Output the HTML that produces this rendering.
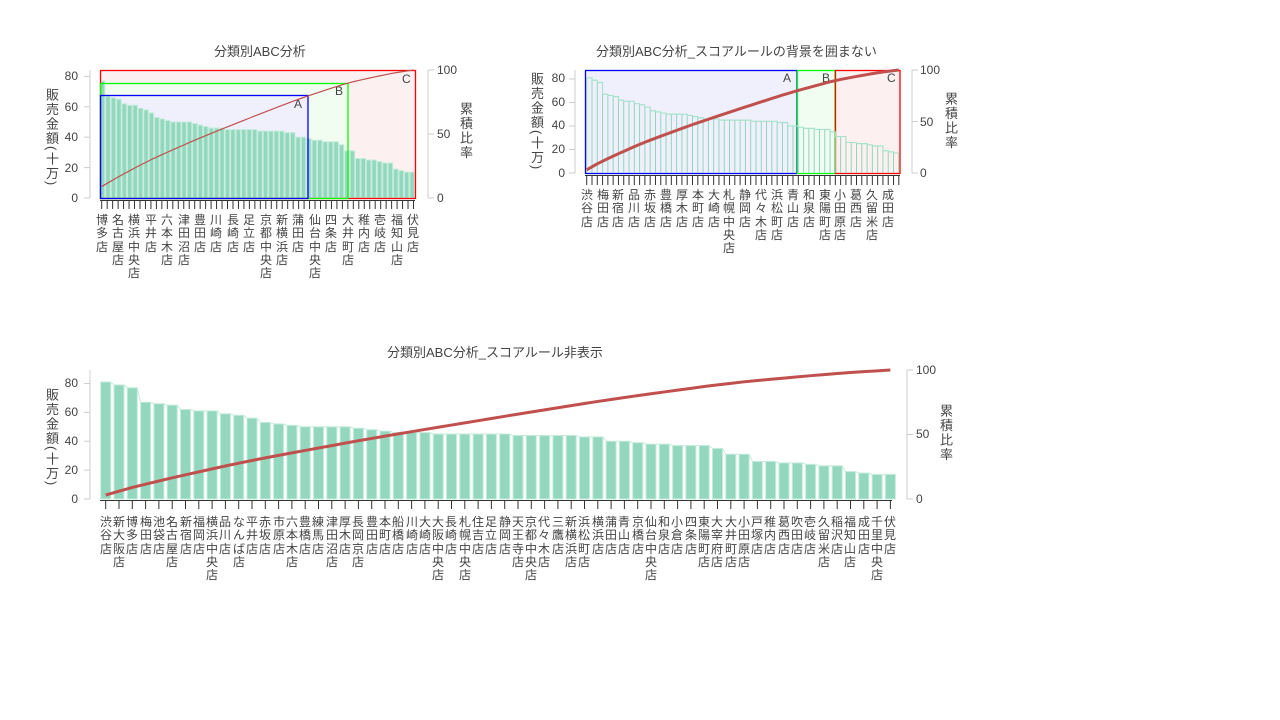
<!DOCTYPE html>
<html><head><meta charset="utf-8"><style>
body{margin:0;width:1280px;height:720px;background:#fff;position:relative;overflow:hidden;font-family:"Liberation Sans","Noto Sans CJK JP",sans-serif;color:#444}
svg{position:absolute;left:0;top:0}
.l{position:absolute;width:12px;font-size:12px;line-height:13.3px;line-break:anywhere;word-break:break-all;text-align:center;color:#444}
.t{position:absolute;font-size:13px;color:#444;white-space:nowrap}
.n{position:absolute;font-size:12px;color:#444;width:30px}
.v{position:absolute;font-size:13px;line-height:14px;letter-spacing:1.5px;writing-mode:vertical-rl;color:#444}
</style></head><body>
<svg id="s" width="1280" height="720"></svg>
<div class="t" style="left:214px;top:41px">分類別ABC分析</div>
<div class="t" style="left:596px;top:41px">分類別ABC分析_スコアルールの背景を囲まない</div>
<div class="t" style="left:387px;top:342px">分類別ABC分析_スコアルール非表示</div>

<div class="v" style="left:44px;top:88px">販売金額(十万)</div>
<div class="v" style="left:458px;top:102px">累積比率</div>
<div class="v" style="left:529px;top:72px">販売金額(十万)</div>
<div class="v" style="left:943px;top:92px">累積比率</div>
<div class="v" style="left:44px;top:388px">販売金額(十万)</div>
<div class="v" style="left:938px;top:404px">累積比率</div>

<div class="n" style="left:48px;top:69px;text-align:right">80</div>
<div class="n" style="left:48px;top:100px;text-align:right">60</div>
<div class="n" style="left:48px;top:130px;text-align:right">40</div>
<div class="n" style="left:48px;top:161px;text-align:right">20</div>
<div class="n" style="left:48px;top:191px;text-align:right">0</div>
<div class="n" style="left:437px;top:63px">100</div>
<div class="n" style="left:437px;top:127px">50</div>
<div class="n" style="left:437px;top:191px">0</div>

<div class="n" style="left:535px;top:71px;text-align:right">80</div>
<div class="n" style="left:535px;top:95px;text-align:right">60</div>
<div class="n" style="left:535px;top:118px;text-align:right">40</div>
<div class="n" style="left:535px;top:142px;text-align:right">20</div>
<div class="n" style="left:535px;top:166px;text-align:right">0</div>
<div class="n" style="left:920px;top:63px">100</div>
<div class="n" style="left:920px;top:115px">50</div>
<div class="n" style="left:920px;top:166px">0</div>

<div class="n" style="left:48px;top:376px;text-align:right">80</div>
<div class="n" style="left:48px;top:405px;text-align:right">60</div>
<div class="n" style="left:48px;top:434px;text-align:right">40</div>
<div class="n" style="left:48px;top:463px;text-align:right">20</div>
<div class="n" style="left:48px;top:492px;text-align:right">0</div>
<div class="n" style="left:916px;top:363px">100</div>
<div class="n" style="left:916px;top:427px">50</div>
<div class="n" style="left:916px;top:492px">0</div>

<div id="L1"><div class="l" style="left:96px;top:214px">博多店</div><div class="l" style="left:112px;top:214px">名古屋店</div><div class="l" style="left:128px;top:214px">横浜中央店</div><div class="l" style="left:145px;top:214px">平井店</div><div class="l" style="left:161px;top:214px">六本木店</div><div class="l" style="left:178px;top:214px">津田沼店</div><div class="l" style="left:194px;top:214px">豊田店</div><div class="l" style="left:210px;top:214px">川崎店</div><div class="l" style="left:227px;top:214px">長崎店</div><div class="l" style="left:243px;top:214px">足立店</div><div class="l" style="left:260px;top:214px">京都中央店</div><div class="l" style="left:276px;top:214px">新横浜店</div><div class="l" style="left:292px;top:214px">蒲田店</div><div class="l" style="left:309px;top:214px">仙台中央店</div><div class="l" style="left:325px;top:214px">四条店</div><div class="l" style="left:342px;top:214px">大井町店</div><div class="l" style="left:358px;top:214px">稚内店</div><div class="l" style="left:374px;top:214px">壱岐店</div><div class="l" style="left:391px;top:214px">福知山店</div><div class="l" style="left:407px;top:214px">伏見店</div></div>

<div><div class="l" style="left:581px;top:189px">渋谷店</div><div class="l" style="left:597px;top:189px">梅田店</div><div class="l" style="left:612px;top:189px">新宿店</div><div class="l" style="left:628px;top:189px">品川店</div><div class="l" style="left:644px;top:189px">赤坂店</div><div class="l" style="left:660px;top:189px">豊橋店</div><div class="l" style="left:676px;top:189px">厚木店</div><div class="l" style="left:692px;top:189px">本町店</div><div class="l" style="left:708px;top:189px">大崎店</div><div class="l" style="left:723px;top:189px">札幌中央店</div><div class="l" style="left:739px;top:189px">静岡店</div><div class="l" style="left:755px;top:189px">代々木店</div><div class="l" style="left:771px;top:189px">浜松町店</div><div class="l" style="left:787px;top:189px">青山店</div><div class="l" style="left:803px;top:189px">和泉店</div><div class="l" style="left:819px;top:189px">東陽町店</div><div class="l" style="left:834px;top:189px">小田原店</div><div class="l" style="left:850px;top:189px">葛西店</div><div class="l" style="left:866px;top:189px">久留米店</div><div class="l" style="left:882px;top:189px">成田店</div></div>

<div>
<div class="l" style="left:100px;top:516px">渋谷店</div><div class="l" style="left:113px;top:516px">新大阪店</div><div class="l" style="left:126px;top:516px">博多店</div><div class="l" style="left:140px;top:516px">梅田店</div><div class="l" style="left:153px;top:516px">池袋店</div><div class="l" style="left:166px;top:516px">名古屋店</div><div class="l" style="left:180px;top:516px">新宿店</div><div class="l" style="left:193px;top:516px">福岡店</div><div class="l" style="left:206px;top:516px">横浜中央店</div><div class="l" style="left:219px;top:516px">品川店</div><div class="l" style="left:233px;top:516px">なんば店</div><div class="l" style="left:246px;top:516px">平井店</div><div class="l" style="left:259px;top:516px">赤坂店</div><div class="l" style="left:273px;top:516px">市原店</div><div class="l" style="left:286px;top:516px">六本木店</div><div class="l" style="left:299px;top:516px">豊橋店</div><div class="l" style="left:312px;top:516px">練馬店</div><div class="l" style="left:326px;top:516px">津田沼店</div><div class="l" style="left:339px;top:516px">厚木店</div><div class="l" style="left:352px;top:516px">長岡京店</div><div class="l" style="left:366px;top:516px">豊田店</div><div class="l" style="left:379px;top:516px">本町店</div><div class="l" style="left:392px;top:516px">船橋店</div><div class="l" style="left:406px;top:516px">川崎店</div><div class="l" style="left:419px;top:516px">大崎店</div><div class="l" style="left:432px;top:516px">大阪中央店</div><div class="l" style="left:445px;top:516px">長崎店</div><div class="l" style="left:459px;top:516px">札幌中央店</div><div class="l" style="left:472px;top:516px">住吉店</div><div class="l" style="left:485px;top:516px">足立店</div><div class="l" style="left:499px;top:516px">静岡店</div><div class="l" style="left:512px;top:516px">天王寺店</div><div class="l" style="left:525px;top:516px">京都中央店</div><div class="l" style="left:538px;top:516px">代々木店</div><div class="l" style="left:552px;top:516px">三鷹店</div><div class="l" style="left:565px;top:516px">新横浜店</div><div class="l" style="left:578px;top:516px">浜松町店</div><div class="l" style="left:592px;top:516px">横浜店</div><div class="l" style="left:605px;top:516px">蒲田店</div><div class="l" style="left:618px;top:516px">青山店</div><div class="l" style="left:632px;top:516px">京橋店</div><div class="l" style="left:645px;top:516px">仙台中央店</div><div class="l" style="left:658px;top:516px">和泉店</div><div class="l" style="left:671px;top:516px">小倉店</div><div class="l" style="left:685px;top:516px">四条店</div><div class="l" style="left:698px;top:516px">東陽町店</div><div class="l" style="left:711px;top:516px">大宰府店</div><div class="l" style="left:725px;top:516px">大井町店</div><div class="l" style="left:738px;top:516px">小田原店</div><div class="l" style="left:751px;top:516px">戸塚店</div><div class="l" style="left:764px;top:516px">稚内店</div><div class="l" style="left:778px;top:516px">葛西店</div><div class="l" style="left:791px;top:516px">吹田店</div><div class="l" style="left:804px;top:516px">壱岐店</div><div class="l" style="left:818px;top:516px">久留米店</div><div class="l" style="left:831px;top:516px">稲沢店</div><div class="l" style="left:844px;top:516px">福知山店</div><div class="l" style="left:858px;top:516px">成田店</div><div class="l" style="left:871px;top:516px">千里中央店</div><div class="l" style="left:884px;top:516px">伏見店</div>
</div>

<script>
var v=[81,79,77,67,66,65,62,61,61,59,58,56,53,52,51,50,50,50,50,49,48,47,46,46,46,45,45,45,45,45,45,44,44,44,44,44,43,43,40,40,39,38,38,37,37,37,35,31,31,26,26,25,25,24,23,23,19,18,17,17];
var tot=v.reduce((a,b)=>a+b,0),cum=[],c=0;v.forEach(x=>{c+=x;cum.push(c/tot*100)});
var s=document.getElementById('s'),h='',ov='';
function R(x,y,w,hh,f,st){h+=`<rect x="${x}" y="${y}" width="${w}" height="${hh}" fill="${f}" stroke="${st||'none'}" stroke-width="1"/>`}
function B(x,y,w,hh,st){ov+=`<rect x="${x}" y="${y}" width="${w}" height="${hh}" fill="none" stroke="${st}" stroke-width="1.3"/>`}
function Ln(a,b,c2,d,col,w){h+=`<line x1="${a}" y1="${b}" x2="${c2}" y2="${d}" stroke="${col}" stroke-width="${w||1}"/>`}
function P(pts,col,w){h+=`<polyline points="${pts.map(p=>p.join(',')).join(' ')}" fill="none" stroke="${col}" stroke-width="${w}"/>`}
function T(x,y,t){h+=`<text x="${x}" y="${y}" font-size="12" fill="#444" font-family="Liberation Sans">${t}</text>`}
var bar='#93d8be',bs='#c4ecdc',lc='#c0504d',ax='#ccc';
// chart 1
R(100,70,315,128,'#fdf0f0');R(100,83,248,115,'#f2fdf2');R(100,95.5,208,102.5,'#f0f0fc');
B(100.5,70.5,315,128,'#f00');B(100.5,83.5,247.5,115,'#0f0');B(100.5,95.5,207.5,103,'#00f');
T(294,108,'A');T(335,95,'B');T(402,83,'C');
var bw=315/58;
for(var i=0;i<58;i++){var val=v[i+2],x=100+bw*i,y=198-val*1.52;R(x+0.3,y,bw-0.9,198-y,bar,bs);}
h+=ov;ov='';
var p=[];for(i=0;i<58;i++)p.push([101.7+i*5.47,198-cum[i+2]*1.28]);P(p,lc,1.2);
Ln(90,70,90,198,ax);Ln(428,70,428,198,ax);
[0,20,40,60,80].forEach(k=>Ln(84,198-k*1.52,90,198-k*1.52,ax));[0,50,100].forEach(k=>Ln(428,198-k*1.28,434,198-k*1.28,ax));
Ln(100,200.5,415,200.5,'#333');for(i=0;i<58;i++){var tx=101.7+i*5.47;Ln(tx,200.5,tx,209,'#333');}
// chart 2
R(585,70,212,103,'#f0f0fc');R(797,70,38,103,'#f2fdf2');R(835,70,65,103,'#fdf0f0');
B(585.5,70.5,211.5,103,'#00f');B(797.5,70.5,37.5,103,'#0f0');B(835.5,70.5,64.5,103,'#f00');
h+=ov;ov='';
T(783,82,'A');T(822,82,'B');T(887,82,'C');
var q=[];for(i=0;i<60;i++){var tx=586.7+i*5.29,y=173-v[i]*1.175;Ln(tx,173,tx,y,'#8fd6bc',1);q.push([tx,y]);if(i<59)q.push([tx+5.29,y]);}
P(q,'#a8e2cc',1.2);
var p2=[];for(i=0;i<60;i++)p2.push([586.7+i*5.29,173-cum[i]*1.03]);P(p2,lc,3);
Ln(575,70,575,173,ax);Ln(912,70,912,173,ax);
[0,20,40,60,80].forEach(k=>Ln(569,173-k*1.175,575,173-k*1.175,ax));[0,50,100].forEach(k=>Ln(912,173-k*1.03,918,173-k*1.03,ax));
Ln(585,175.5,900,175.5,'#333');for(i=0;i<60;i++){var tx=586.7+i*5.29;Ln(tx,175.5,tx,185,'#333');}
// chart 3
for(i=0;i<60;i++){var cx=105.7+i*13.3,y=499-v[i]*1.444;R(cx-5,y,10,499-y,bar,bs);if(i<59){Ln(cx+5,y,cx+8.3,499-v[i+1]*1.444,bs,1);}}
var p3=[];for(i=0;i<60;i++)p3.push([105.7+i*13.3,499-cum[i]*1.29]);P(p3,lc,3);
Ln(90,370,90,499,ax);Ln(907,370,907,499,ax);
[0,20,40,60,80].forEach(k=>Ln(84,499-k*1.444,90,499-k*1.444,ax));[0,50,100].forEach(k=>Ln(907,499-k*1.29,913,499-k*1.29,ax));
Ln(100,500.5,892,500.5,'#333');for(i=0;i<60;i++){var tx=105.7+i*13.3;Ln(tx,500.5,tx,509,'#333');}
s.innerHTML=h;
</script>
</body></html>
